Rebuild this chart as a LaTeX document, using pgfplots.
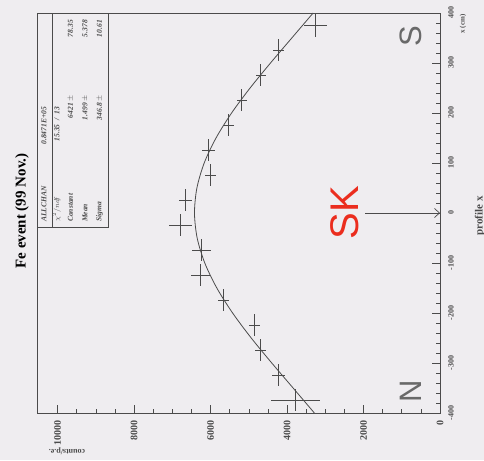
\documentclass[border=0pt]{standalone}
\usepackage{pgfplots}
\pgfplotsset{compat=1.18}
\usepackage{pgfplotstable}
\usetikzlibrary{arrows.meta}
\usepackage{fontspec}
\setmainfont{Liberation Serif}
\newfontfamily\sansf{Liberation Sans}
\definecolor{bg}{RGB}{239,237,240}
\definecolor{ink}{RGB}{75,75,75}
\definecolor{lightink}{RGB}{105,105,105}
\definecolor{skred}{RGB}{235,45,30}

\pgfplotstableread{
c     ce   p     pe
3255  300  375   23
4222  150  325   22
4693  130  275   22
5190  130  225   22
5529  130  175   22
6052  175  125   22
6000  150   75   22
6654  175   25   22
6784  305  -25   22
6235  240  -75   22
6261  240 -125   22
5660  150 -175   22
4850  150 -225   22
4693  150 -275   22
4222  175 -325   22
3778  650 -375   22
}\datatable

\begin{document}
\begin{tikzpicture}[x=1pt,y=1pt]
\useasboundingbox (0,0) rectangle (484,460);
\fill[bg] (0,0) rectangle (484,460);
\begin{axis}[
  at={(37pt,47pt)}, anchor=south west,
  scale only axis, width=403pt, height=400pt,
  x dir=reverse, xmin=0, xmax=10540, ymin=-400, ymax=400,
  axis line style={ink, line width=0.8pt},
  xtick={0,2000,...,10000}, minor x tick num=3,
  ytick={-400,-300,...,400}, minor y tick num=4,
  xtick pos=left, ytick pos=right, tick align=inside,
  major tick length=8pt, minor tick length=4pt,
  tick style={ink, line width=0.6pt},
  yticklabel pos=right,
  scaled x ticks=false,
  /pgf/number format/1000 sep={},
  /pgf/number format/assume math mode=true,
  xticklabel style={rotate=90, anchor=east, inner sep=1pt, font=\fontsize{10}{10}\selectfont\bfseries, text=ink},
  yticklabel style={rotate=90, anchor=north, inner sep=1pt, font=\fontsize{8}{8}\selectfont\bfseries, text=ink},
  xticklabel shift=6pt, yticklabel shift=7pt,
  clip=false
]
\addplot[ink, line width=0.8pt, smooth] coordinates {
(3285,-400) (3842,-350) (4400,-300) (4937,-250) (5424,-200) (5837,-150)
(6152,-100) (6351,-50) (6421,0) (6358,50) (6167,100) (5858,150)
(5451,200) (4967,250) (4433,300) (3876,350) (3318,400)};
\addplot[draw=none, mark=none, error bars/.cd, x dir=both, x explicit, y dir=both, y explicit,
  error mark=none, error bar style={ink, line width=0.7pt}]
  table[x=c, y=p, x error=ce, y error=pe]{\datatable};
\end{axis}
% SK arrow
\draw[ink, line width=0.7pt, -{Straight Barb[length=5pt,width=9pt]}] (365,247) -- (440,247);
\node[rotate=90, text=skred, font=\sansf\fontsize{40}{40}\selectfont, inner sep=0pt] at (345,247) {SK};
% N / S
\node[rotate=90, text=lightink, font=\sansf\fontsize{31}{31}\selectfont, inner sep=0pt] at (411,424) {S};
\node[rotate=90, text=lightink, font=\sansf\fontsize{31}{31}\selectfont, inner sep=0pt] at (411,69) {N};
% title
\node[rotate=90, font=\fontsize{15}{15}\selectfont\bfseries, inner sep=0pt] at (22,249) {Fe event (99 Nov.)};
% axis titles
\node[rotate=90, font=\fontsize{7}{7}\selectfont\bfseries, text=ink, inner sep=0pt] at (463,436) {x (cm)};
\node[rotate=90, font=\fontsize{11}{11}\selectfont\bfseries, text=ink, inner sep=0pt] at (480,244) {profile x};
\node[rotate=180, font=\fontsize{8}{8}\selectfont\bfseries, text=ink, inner sep=0pt] at (67,9) {counts/p.e.};
% stats box
\draw[ink, line width=0.7pt] (37,233) rectangle (108,447);
\draw[ink, line width=0.7pt] (52,233) -- (52,447);
\begin{scope}[every node/.style={rotate=90, inner sep=0pt, font=\fontsize{7.5}{7.5}\selectfont\bfseries\itshape, text=ink}]
\node[anchor=west] at (44,238) {ALLCHAN};
\node[anchor=east] at (44,353) {0.8471E+05};
\node[anchor=west] at (57,238) {$\chi^2/ndf$};
\node[anchor=east] at (57,353) {15.35\ \ /\ \ 13};
\node[anchor=west] at (70.5,238) {Constant};
\node[anchor=east] at (70.5,357) {6421};
\node at (70.5,362) {$\pm$};
\node[anchor=east] at (70.5,440) {78.35};
\node[anchor=west] at (85,238) {Mean};
\node[anchor=east] at (85,357) {1.499};
\node at (85,362) {$\pm$};
\node[anchor=east] at (85,440) {5.378};
\node[anchor=west] at (99.5,238) {Sigma};
\node[anchor=east] at (99.5,357) {346.8};
\node at (99.5,362) {$\pm$};
\node[anchor=east] at (99.5,440) {10.61};
\end{scope}
\end{tikzpicture}
\end{document}
